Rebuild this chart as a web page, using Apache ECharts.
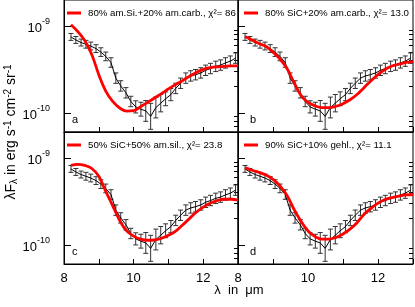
<!DOCTYPE html>
<html><head><meta charset="utf-8">
<script src="https://cdn.jsdelivr.net/npm/echarts@6/dist/echarts.min.js"></script>
<style>html,body{margin:0;padding:0;background:#fff}#c{width:415px;height:307px}</style>
</head><body><div id="c"></div>
<script>
// Observed spectrum (wavelength in micron, lambda*F_lambda in erg s^-1 cm^-2 sr^-1)
const wavelengths = [8.20, 8.34, 8.49, 8.63, 8.77, 8.92, 9.06, 9.20, 9.35, 9.49, 9.63, 9.78, 9.92, 10.06, 10.21, 10.35, 10.49, 10.64, 10.78, 10.92, 11.07, 11.21, 11.35, 11.50, 11.64, 11.78, 11.93, 12.07, 12.21, 12.36, 12.50, 12.64, 12.78, 12.93];
const observed = [7.50e-10, 6.92e-10, 6.46e-10, 6.17e-10, 5.89e-10, 5.50e-10, 5.01e-10, 4.47e-10, 3.80e-10, 2.51e-10, 2.04e-10, 1.70e-10, 1.35e-10, 1.17e-10, 1.10e-10, 1.05e-10, 0.91e-10, 1.15e-10, 1.29e-10, 1.45e-10, 1.62e-10, 1.91e-10, 2.19e-10, 2.51e-10, 2.66e-10, 2.75e-10, 2.88e-10, 3.09e-10, 3.24e-10, 3.43e-10, 3.55e-10, 3.76e-10, 3.94e-10, 4.27e-10];
// uncertainty in dex (log10)
const errDex = [0.04, 0.04, 0.04, 0.045, 0.045, 0.045, 0.05, 0.05, 0.055, 0.06, 0.06, 0.06, 0.06, 0.07, 0.08, 0.12, 0.15, 0.12, 0.10, 0.08, 0.07, 0.06, 0.06, 0.06, 0.06, 0.06, 0.06, 0.06, 0.06, 0.06, 0.06, 0.06, 0.06, 0.06];

// Model fits
const modelWavelengths = [8.2, 8.4, 8.6, 8.8, 9.0, 9.2, 9.4, 9.6, 9.8, 10.0, 10.2, 10.4, 10.6, 10.8, 11.0, 11.2, 11.4, 11.6, 11.8, 12.0, 12.2, 12.4, 12.6, 12.8, 13.0];
const modelA = [10.35e-10, 8.61e-10, 6.76e-10, 4.68e-10, 2.75e-10, 1.78e-10, 1.35e-10, 1.135e-10, 1.047e-10, 1.059e-10, 1.175e-10, 1.318e-10, 1.479e-10, 1.66e-10, 1.884e-10, 2.113e-10, 2.344e-10, 2.63e-10, 2.917e-10, 3.162e-10, 3.311e-10, 3.388e-10, 3.428e-10, 3.467e-10, 3.467e-10];
const modelB = [7.586e-10, 6.918e-10, 6.31e-10, 5.821e-10, 5.012e-10, 4.169e-10, 3.236e-10, 2.239e-10, 1.585e-10, 1.318e-10, 1.202e-10, 1.148e-10, 1.148e-10, 1.189e-10, 1.274e-10, 1.413e-10, 1.622e-10, 1.95e-10, 2.344e-10, 2.754e-10, 3.162e-10, 3.467e-10, 3.631e-10, 3.802e-10, 3.89e-10];
const modelC = [8.222e-10, 8.472e-10, 8.222e-10, 7.586e-10, 6.166e-10, 4.121e-10, 2.818e-10, 1.905e-10, 1.445e-10, 1.259e-10, 1.161e-10, 1.127e-10, 1.135e-10, 1.189e-10, 1.288e-10, 1.429e-10, 1.679e-10, 1.995e-10, 2.371e-10, 2.723e-10, 3.02e-10, 3.236e-10, 3.35e-10, 3.35e-10, 3.273e-10];
const modelD = [7.762e-10, 7.244e-10, 6.839e-10, 6.383e-10, 5.689e-10, 4.786e-10, 3.715e-10, 2.57e-10, 1.862e-10, 1.445e-10, 1.245e-10, 1.161e-10, 1.161e-10, 1.216e-10, 1.334e-10, 1.514e-10, 1.799e-10, 2.239e-10, 2.63e-10, 3.02e-10, 3.327e-10, 3.508e-10, 3.631e-10, 3.758e-10, 3.802e-10];

const modelLabels = [
  '80% am.Si.+20% am.carb., χ²= 86',
  '80% SiC+20% am.carb., χ²= 13.0',
  '50% SiC+50% am.sil., χ²= 23.8',
  '90% SiC+10% gehl., χ²= 11.1'
];
const panelLetters = ['a', 'b', 'c', 'd'];
const xTickLabels = [8, 10, 12];
const yMajorTicks = [1e-10, 1e-9];
const yMinorTicks = [6e-11, 7e-11, 8e-11, 9e-11, 2e-10, 3e-10, 4e-10, 5e-10, 6e-10, 7e-10, 8e-10, 9e-10];
const xRange = [8, 13];
const yRange = [6e-11, 2e-9];

const models = [modelA, modelB, modelC, modelD];
const FONT = 'Liberation Sans';
const grids = [
  { left: 64, top: 0, width: 174, height: 132 },
  { left: 238, top: 0, width: 175, height: 132 },
  { left: 64, top: 132, width: 174, height: 132 },
  { left: 238, top: 132, width: 175, height: 132 }
];

const xAxes = [], yAxes = [], series = [], legends = [], graphics = [];
grids.forEach((g, i) => {
  const bottomRow = i >= 2;
  const leftCol = i % 2 === 0;
  xAxes.push({
    type: 'value', gridIndex: i, min: xRange[0], max: xRange[1], interval: 1,
    axisLine: { show: true, lineStyle: { color: '#000', width: 1 } },
    axisTick: { show: true, inside: true, length: 5, lineStyle: { color: '#000' } },
    axisLabel: { show: bottomRow, customValues: xTickLabels, margin: 8, color: '#000', fontSize: 13, fontFamily: FONT },
    splitLine: { show: false }
  });
  yAxes.push({
    type: 'log', logBase: 10, gridIndex: i, min: yRange[0], max: yRange[1],
    axisLine: { show: true, lineStyle: { color: '#000', width: 1 } },
    axisTick: { show: true, inside: true, length: 7, customValues: yMajorTicks, lineStyle: { color: '#000' } },
    axisLabel: {
      show: leftCol, customValues: yMajorTicks, margin: 14, color: '#000', fontFamily: FONT,
      formatter: v => '{b|10}{s|' + Math.round(Math.log10(v)) + '}',
      rich: {
        b: { fontSize: 13, fontFamily: FONT, color: '#000', verticalAlign: 'bottom', lineHeight: 18 },
        s: { fontSize: 9, fontFamily: FONT, color: '#000', verticalAlign: 'top' }
      }
    },
    splitLine: { show: false }
  });
  yAxes.push({
    type: 'log', logBase: 10, gridIndex: i, min: yRange[0], max: yRange[1],
    axisLine: { show: false },
    axisTick: { show: true, inside: true, length: 4, customValues: yMinorTicks, lineStyle: { color: '#000' } },
    axisLabel: { show: false },
    splitLine: { show: false }
  });

  // error bars
  series.push({
    type: 'custom', xAxisIndex: i, yAxisIndex: 2 * i, silent: true, z: 2,
    data: wavelengths.map((w, k) => [w, observed[k] / Math.pow(10, errDex[k]), observed[k] * Math.pow(10, errDex[k])]),
    encode: { x: 0, y: [1, 2] },
    renderItem: (params, api) => {
      const lo = api.coord([api.value(0), api.value(1)]);
      const hi = api.coord([api.value(0), api.value(2)]);
      const c = 2.5;
      const st = { stroke: '#333', lineWidth: 1 };
      return { type: 'group', children: [
        { type: 'line', shape: { x1: lo[0], y1: lo[1], x2: hi[0], y2: hi[1] }, style: st },
        { type: 'line', shape: { x1: lo[0] - c, y1: lo[1], x2: lo[0] + c, y2: lo[1] }, style: st },
        { type: 'line', shape: { x1: hi[0] - c, y1: hi[1], x2: hi[0] + c, y2: hi[1] }, style: st }
      ] };
    }
  });
  // observed line
  series.push({
    type: 'line', xAxisIndex: i, yAxisIndex: 2 * i, silent: true, z: 3,
    data: wavelengths.map((w, k) => [w, observed[k]]),
    showSymbol: false, symbol: 'none', lineStyle: { color: '#000', width: 1 }
  });
  // model
  series.push({
    type: 'line', name: modelLabels[i], xAxisIndex: i, yAxisIndex: 2 * i, silent: true, z: 4,
    data: modelWavelengths.map((w, k) => [w, models[i][k]]),
    smooth: 0.4, showSymbol: false, symbol: 'none', color: '#f00',
    lineStyle: { color: '#f00', width: 2.8 }
  });
  legends.push({
    data: [modelLabels[i]], left: leftCol ? 67 : 244, top: g.top + 8,
    icon: 'rect', itemWidth: 14, itemHeight: 3, itemGap: 0, padding: 0,
    textStyle: { fontSize: 9.7, fontFamily: FONT, color: '#000', padding: [0, 0, 0, 2] },
    selectedMode: false
  });
  graphics.push({
    type: 'text', left: leftCol ? 72 : 250, top: g.top + 114,
    style: { text: panelLetters[i], fontSize: 11, fontFamily: FONT, fill: '#000' }
  });
});

graphics.push({
  type: 'text', x: 11, y: 132, rotation: Math.PI / 2,
  style: {
    text: 'λF{sub|λ} in erg s{sup|-1} cm{sup|-2} sr{sup|-1}',
    fontSize: 14, fontFamily: FONT, fill: '#000', align: 'center', verticalAlign: 'middle',
    rich: {
      sub: { fontSize: 10, fontFamily: FONT, fill: '#000', verticalAlign: 'bottom', padding: [6, 0, 0, 0] },
      sup: { fontSize: 10, fontFamily: FONT, fill: '#000', verticalAlign: 'top', padding: [0, 0, 6, 0] }
    }
  }
});
graphics.push({
  type: 'text', x: 239, y: 290,
  style: { text: 'λ  in  μm', fontSize: 13, fontFamily: FONT, fill: '#000', align: 'center', verticalAlign: 'middle' }
});

const chart = echarts.init(document.getElementById('c'), null, { renderer: 'canvas' });
chart.setOption({
  animation: false,
  backgroundColor: '#fff',
  textStyle: { fontFamily: FONT },
  grid: grids.map(g => Object.assign({ show: true, borderColor: '#000', borderWidth: 1, backgroundColor: 'transparent' }, g)),
  xAxis: xAxes,
  yAxis: yAxes,
  legend: legends,
  series: series,
  graphic: graphics
});
</script></body></html>
